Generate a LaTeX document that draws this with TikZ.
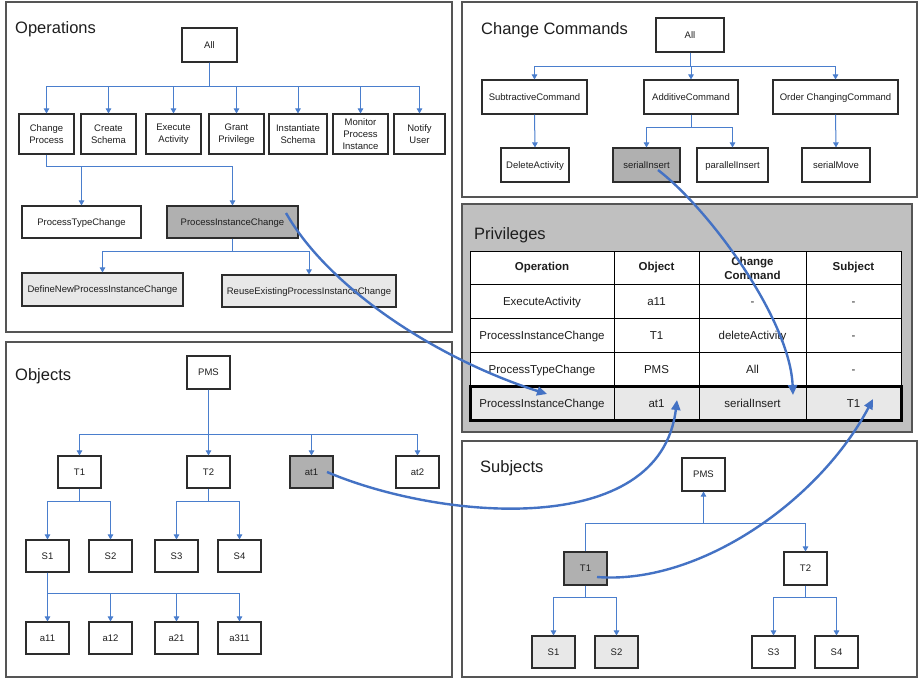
\documentclass[tikz,border=0pt]{standalone}
\usepackage{fontspec}
\setmainfont{Liberation Sans}
\usetikzlibrary{arrows.meta,calc}

\definecolor{treeblue}{RGB}{74,126,205}
\definecolor{linkblue}{RGB}{68,114,196}
\definecolor{frame}{RGB}{85,85,85}
\definecolor{boxline}{RGB}{45,45,45}
\definecolor{darkfill}{RGB}{176,176,176}
\definecolor{lightfill}{RGB}{232,232,232}
\definecolor{privfill}{RGB}{192,192,192}
\definecolor{ink}{RGB}{30,30,30}

\begin{document}
\begin{tikzpicture}[x=1pt,y=-1pt,
  panel/.style={draw=frame,line width=1.2pt},
  paneltitle/.style={anchor=base west,inner sep=0pt,text=ink,font=\fontsize{16.5}{19}\selectfont},
  box/.style 2 args={draw=boxline,line width=1.1pt,fill=white,inner sep=0pt,
    align=center,text=ink,font=\fontsize{9.5}{11.8}\selectfont,
    minimum width=#1pt,minimum height=#2pt},
  onebox/.style 2 args={box={#1}{#2},text height=6.8pt,text depth=0pt},
  dark/.style={fill=darkfill},
  light/.style={fill=lightfill},
  tline/.style={draw=treeblue,line width=1pt},
  tarrow/.style={tline,-{Triangle[length=5pt,width=5.5pt]}},
  link/.style={draw=linkblue,line width=2.4pt,-{Triangle[length=10pt,width=9pt]}},
  cell/.style={inner sep=0pt,align=center,text=ink,font=\fontsize{11.5}{14}\selectfont,
    text height=8.2pt,text depth=0pt},
  headcell/.style={inner sep=0pt,align=center,text=ink,font=\bfseries\fontsize{11.5}{14}\selectfont},
]
\useasboundingbox (0,0) rectangle (920,681);
\fill[white] (0,0) rectangle (920,681);

% ---------- panels ----------
\draw[panel] (6,2) rectangle (452,332);
\draw[panel] (462,2) rectangle (917,197);
\draw[panel,fill=privfill] (462,204) rectangle (912,432);
\draw[panel] (6,342) rectangle (452,677);
\draw[panel] (462,441) rectangle (917,677);

\node[paneltitle] at (15,33.3) {Operations};
\node[paneltitle] at (481,34) {Change Commands};
\node[paneltitle] at (474,239.3) {Privileges};
\node[paneltitle] at (15,380) {Objects};
\node[paneltitle] at (480,472.3) {Subjects};

% ---------- Operations ----------
\node[onebox={55}{34}] (opAll) at (209.5,45) {All};
\node[box={55}{40}] (cp) at (46.5,134) {Change\\Process};
\node[box={55}{40}] (cs) at (108.5,134) {Create\\Schema};
\node[box={55}{40}] (ea) at (173.5,134) {Execute\\Activity};
\node[box={55}{40}] (gp) at (236.5,134) {Grant\\Privilege};
\node[box={58}{40}] (is) at (298,134) {Instantiate\\Schema};
\node[box={55}{40}] (mp) at (360.5,134) {Monitor\\Process\\Instance};
\node[box={51}{40}] (nu) at (419.5,134) {Notify\\User};
\node[onebox={119}{32}] (ptc) at (81.5,222) {ProcessTypeChange};
\node[onebox={131}{32},dark] (pic) at (232.5,222) {ProcessInstanceChange};
\node[onebox={161}{33},light] (dn) at (102.5,289.5) {DefineNewProcessInstanceChange};
\node[onebox={174}{32},light] (re) at (309,291) {ReuseExistingProcessInstanceChange};

\foreach \c in {cp,cs,ea,gp,is,mp,nu}
  \draw[tarrow] (opAll.south) -- (opAll.south |- 0,86) -| (\c.north);
\foreach \c in {ptc,pic}
  \draw[tarrow] (cp.south) -- (cp.south |- 0,166) -| (\c.north);
\foreach \c in {dn,re}
  \draw[tarrow] (pic.south) -- (pic.south |- 0,251) -| (\c.north);

% ---------- Change Commands ----------
\node[onebox={68}{34}] (ccAll) at (690,35) {All};
\node[onebox={105}{34}] (sub) at (534.5,97) {SubtractiveCommand};
\node[onebox={94}{34}] (add) at (691,97) {AdditiveCommand};
\node[onebox={125}{34}] (ord) at (835.5,97) {Order ChangingCommand};
\node[onebox={68}{34}] (del) at (535,165) {DeleteActivity};
\node[onebox={67}{34},dark] (si) at (646.5,165) {serialInsert};
\node[onebox={71}{34}] (pi) at (732.5,165) {parallelInsert};
\node[onebox={68}{34}] (sm) at (836,165) {serialMove};

\foreach \c in {sub,add,ord}
  \draw[tarrow] (ccAll.south) -- (ccAll.south |- 0,66) -| (\c.north);
\draw[tarrow] (sub.south) -- (del.north);
\foreach \c in {si,pi}
  \draw[tarrow] (add.south) -- (add.south |- 0,127) -| (\c.north);
\draw[tarrow] (ord.south) -- (sm.north);

% ---------- Privileges table ----------
\fill[white] (470,251) rectangle (901,386);
\fill[lightfill] (470,386) rectangle (901,420);
\draw[black,line width=1pt] (470,251) rectangle (901,420);
\foreach \y in {284,318,352}
  \draw[black,line width=1pt] (470,\y) -- (901,\y);
\foreach \x in {614,699,806}
  \draw[black,line width=1pt] (\x,251) -- (\x,420);
\draw[black,line width=3pt] (470,386) rectangle (901,420);

\node[headcell] (h1) at (542,268) {Operation};
\node[headcell] (h2) at (656.5,268) {Object};
\node[headcell] (h3) at (752.5,268) {Change\\Command};
\node[headcell] (h4) at (853.5,268) {Subject};

\node[cell] (r1c1) at (542,301) {ExecuteActivity};
\node[cell] (r1c2) at (656.5,301) {a11};
\node[cell] (r1c3) at (752.5,301) {-};
\node[cell] (r1c4) at (853.5,301) {-};

\node[cell] (r2c1) at (542,335) {ProcessInstanceChange};
\node[cell] (r2c2) at (656.5,335) {T1};
\node[cell] (r2c3) at (752.5,335) {deleteActivity};
\node[cell] (r2c4) at (853.5,335) {-};

\node[cell] (r3c1) at (542,369) {ProcessTypeChange};
\node[cell] (r3c2) at (656.5,369) {PMS};
\node[cell] (r3c3) at (752.5,369) {All};
\node[cell] (r3c4) at (853.5,369) {-};

\node[cell] (r4c1) at (542,403) {ProcessInstanceChange};
\node[cell] (r4c2) at (656.5,403) {at1};
\node[cell] (r4c3) at (752.5,403) {serialInsert};
\node[cell] (r4c4) at (853.5,403) {T1};

% ---------- Objects ----------
\node[onebox={43}{33}] (oPMS) at (208.5,372.5) {PMS};
\node[onebox={43}{32}] (oT1) at (79.5,472) {T1};
\node[onebox={43}{32}] (oT2) at (208.5,472) {T2};
\node[onebox={43}{32},dark] (oat1) at (311.5,472) {at1};
\node[onebox={43}{32}] (oat2) at (417.5,472) {at2};
\node[onebox={43}{32}] (oS1) at (47.5,556) {S1};
\node[onebox={43}{32}] (oS2) at (110.5,556) {S2};
\node[onebox={43}{32}] (oS3) at (176.5,556) {S3};
\node[onebox={43}{32}] (oS4) at (239.5,556) {S4};
\node[onebox={43}{32}] (oa11) at (47.5,638) {a11};
\node[onebox={43}{32}] (oa12) at (110.5,638) {a12};
\node[onebox={43}{32}] (oa21) at (176.5,638) {a21};
\node[onebox={43}{32}] (oa311) at (239.5,638) {a311};

\foreach \c in {oT1,oT2,oat1,oat2}
  \draw[tarrow] (oPMS.south) -- (oPMS.south |- 0,434) -| (\c.north);
\foreach \c in {oS1,oS2}
  \draw[tarrow] (oT1.south) -- (oT1.south |- 0,501) -| (\c.north);
\foreach \c in {oS3,oS4}
  \draw[tarrow] (oT2.south) -- (oT2.south |- 0,501) -| (\c.north);
\foreach \c in {oa11,oa12,oa21,oa311}
  \draw[tarrow] (oS1.south) -- (oS1.south |- 0,593) -| (\c.north);

% ---------- Subjects ----------
\node[onebox={43}{33}] (sPMS) at (703.5,474.5) {PMS};
\node[onebox={43}{33},dark] (sT1) at (585.5,568.5) {T1};
\node[onebox={43}{33}] (sT2) at (805.5,568.5) {T2};
\node[onebox={43}{32},light] (sS1) at (553.5,652) {S1};
\node[onebox={43}{32},light] (sS2) at (616.5,652) {S2};
\node[onebox={43}{32}] (sS3) at (773.5,652) {S3};
\node[onebox={43}{32}] (sS4) at (836.5,652) {S4};

\draw[tline] (sT1.north) -- (sT1.north |- 0,523) -| (sT2.north);
\draw[tarrow] (sPMS.south |- 0,523) -- (sPMS.south);
\draw[tarrow] (sT1.north |- 0,523) -| (sT2.north);
\foreach \c in {sS1,sS2}
  \draw[tarrow] (sT1.south) -- (sT1.south |- 0,597) -| (\c.north);
\foreach \c in {sS3,sS4}
  \draw[tarrow] (sT2.south) -- (sT2.south |- 0,597) -| (\c.north);

% ---------- privilege links ----------
\draw[link] ($(pic.center)+(53.5,-9)$) .. controls (330,290) and (440,360) .. ($(r4c1.center)+(5,-9)$);
\draw[link] ($(si.center)+(11.5,5)$) .. controls (710,210) and (790,320) .. ($(r4c3.center)+(40.5,-8)$);
\draw[link] ($(oat1.center)+(15.5,0)$) .. controls (440,520) and (660,540) .. ($(r4c2.center)+(20.5,-3)$);
\draw[link] ($(sT1.center)+(11.5,8.5)$) .. controls (700,585) and (820,500) .. ($(r4c4.center)+(19.5,-4)$);
\end{tikzpicture}
\end{document}
